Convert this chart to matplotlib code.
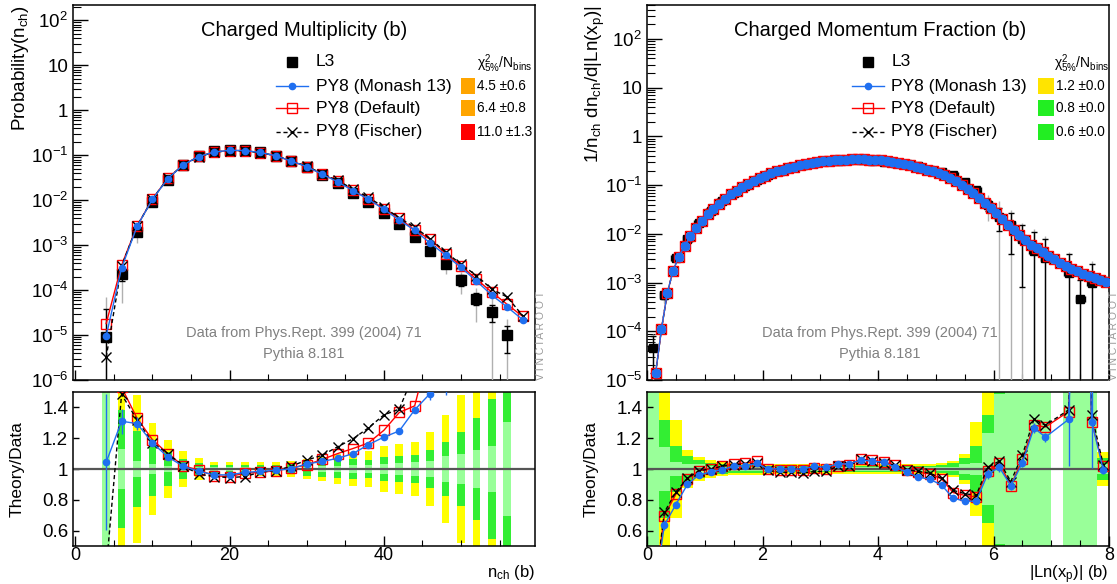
import numpy as np
import matplotlib.pyplot as plt
from matplotlib.ticker import MultipleLocator, LogLocator, NullFormatter, FuncFormatter, FixedLocator
from matplotlib.lines import Line2D
from matplotlib.patches import Rectangle

plt.rcParams['font.family'] = ['Liberation Sans', 'DejaVu Sans']
plt.rcParams['mathtext.fontset'] = 'custom'
plt.rcParams['mathtext.rm'] = 'Liberation Sans'
plt.rcParams['mathtext.it'] = 'Liberation Sans:italic'
plt.rcParams['mathtext.bf'] = 'Liberation Sans:bold'

BLUE = '#1f6ff0'
YELLOW = '#ffff00'
GREEN = '#33ee33'
LIGHT = '#99ff99'

# ---------------- Charged multiplicity ----------------
nch_x = [4, 6, 8, 10, 12, 14, 16, 18, 20, 22, 24, 26, 28, 30, 32, 34, 36, 38, 40,
         42, 44, 46, 48, 50, 52, 54, 56]
nch_l3 = [9e-6, 2.3e-4, 2.0e-3, 9.0e-3, 0.028, 0.060, 0.095, 0.123, 0.134, 0.130,
          0.117, 0.098, 0.074, 0.054, 0.036, 0.024, 0.0148, 0.0091, 0.0052, 0.0029,
          0.00154, 7.5e-4, 3.8e-4, 1.67e-4, 6.5e-5, 3.3e-5, 1.0e-5]
# relative uncertainties (black = stat, grey = total)
nch_l3_stat = [3.3, 0.3, 0.2, 0.1, 0.05, 0.03, 0.02, 0.02, 0.02, 0.02, 0.02, 0.02, 0.02,
               0.02, 0.02, 0.02, 0.02, 0.02, 0.02, 0.02, 0.08, 0.12, 0.2, 0.28, 0.3, 0.42, 0.6]
nch_l3_tot = [7.0, 0.78, 0.45, 0.2, 0.1, 0.06, 0.05, 0.05, 0.05, 0.05, 0.05, 0.05, 0.05,
              0.05, 0.05, 0.05, 0.05, 0.05, 0.05, 0.05, 0.15, 0.25, 0.4, 0.5, 0.7, 1.0, 1.3]

nch_mc_x = [4, 6, 8, 10, 12, 14, 16, 18, 20, 22, 24, 26, 28, 30, 32, 34, 36, 38, 40,
            42, 44, 46, 48, 50, 52, 54, 56, 58]
nch_monash = [9.5e-6, 3.1e-4, 2.6e-3, 0.0105, 0.0302, 0.0611, 0.0936, 0.118, 0.129, 0.127,
              0.1152, 0.0971, 0.0741, 0.0558, 0.0378, 0.0257, 0.0163, 0.0105, 0.00628, 0.00362,
              0.00213, 0.00112, 6.0e-4, 3.2e-4, 1.6e-4, 7.7e-5, 4.2e-5, 2.2e-5]
nch_default = [1.8e-5, 3.6e-4, 2.65e-3, 0.0107, 0.0308, 0.0612, 0.0943, 0.1176, 0.127, 0.1265,
               0.1144, 0.0969, 0.0745, 0.0555, 0.0382, 0.0264, 0.0168, 0.0106, 0.0065, 0.00396,
               0.00217, 1.35e-3, 6.5e-4, 3.5e-4, 1.75e-4, 9.0e-5, 4.8e-5, 2.6e-5]
nch_fischer = [3.2e-6, 3.4e-4, 2.65e-3, 0.0105, 0.0308, 0.0612, 0.0919, 0.117, 0.1265, 0.1237,
               0.1147, 0.0969, 0.0753, 0.0571, 0.0392, 0.0275, 0.0177, 0.0115, 0.00702, 0.00403,
               0.0025, 1.4e-3, 7.0e-4, 3.8e-4, 2.1e-4, 1.05e-4, 7.0e-5, 2.7e-5]

# theory / data
nch_r_monash = [1.044, 1.31, 1.295, 1.17, 1.078, 1.018, 0.985, 0.962, 0.962, 0.978, 0.985,
                0.991, 1.002, 1.033, 1.049, 1.069, 1.10, 1.158, 1.207, 1.247, 1.384, 1.49,
                1.58, 1.92, 2.46, 2.33, 4.2]
nch_r_monash_err = [0.44, 0.08, 0.04, 0.015, 0.01, 0.01, 0.01, 0.01, 0.01, 0.01, 0.01, 0.01,
                    0.01, 0.01, 0.01, 0.01, 0.01, 0.01, 0.015, 0.015, 0.015, 0.04, 0.1, 0.1,
                    0.1, 0.1, 0.1]
nch_r_default = [2.0, 1.53, 1.33, 1.19, 1.10, 1.02, 0.993, 0.956, 0.951, 0.973, 0.978, 0.989,
                 1.007, 1.027, 1.062, 1.10, 1.133, 1.169, 1.251, 1.367, 1.41, 1.8, 1.71, 2.1,
                 2.7, 2.7, 4.8]
nch_r_fischer = [0.35, 1.484, 1.32, 1.17, 1.10, 1.02, 0.967, 0.951, 0.944, 0.951, 0.98, 0.989,
                 1.018, 1.058, 1.089, 1.144, 1.196, 1.267, 1.351, 1.389, 1.63, 1.87, 1.84,
                 2.28, 3.2, 3.2, 7.0]
# uncertainty bands (half widths)
nch_band_yellow = [0.6, 0.6, 0.48, 0.30, 0.19, 0.12, 0.07, 0.046, 0.044, 0.044, 0.045, 0.047,
                   0.055, 0.065, 0.08, 0.095, 0.11, 0.12, 0.147, 0.16, 0.177, 0.242, 0.35,
                   0.48, 0.6, 0.6, 0.6]
nch_band_green = [0.6, 0.385, 0.245, 0.175, 0.11, 0.068, 0.04, 0.028, 0.025, 0.025, 0.027,
                  0.028, 0.035, 0.045, 0.052, 0.06, 0.065, 0.06, 0.077, 0.083, 0.09, 0.123,
                  0.176, 0.242, 0.33, 0.455, 0.6]
nch_band_light = [0.6, 0.13, 0.05, 0.03, 0.02, 0.015, 0.012, 0.01, 0.01, 0.01, 0.01, 0.01,
                  0.012, 0.015, 0.02, 0.022, 0.025, 0.025, 0.03, 0.04, 0.045, 0.05, 0.085,
                  0.1, 0.123, 0.15, 0.305]

# ---------------- Charged momentum fraction ----------------
xp_l3_x = [0.1, 0.3, 0.5, 0.7, 0.9, 1.1, 1.3, 1.5, 1.7, 1.9, 2.1, 2.3, 2.5, 2.7, 2.9, 3.1,
           3.3, 3.5, 3.7, 3.9, 4.1, 4.3, 4.5, 4.7, 4.9, 5.1, 5.3, 5.5, 5.7, 5.9, 6.1, 6.3,
           6.5, 6.7, 6.9, 7.3, 7.5, 7.7, 7.9]
xp_l3 = [4.6e-5, 5.5e-4, 3.2e-3, 7.9e-3, 0.0166, 0.0295, 0.047, 0.069, 0.098, 0.126,
         0.164, 0.200, 0.232, 0.263, 0.283, 0.309, 0.317, 0.327, 0.321, 0.317,
         0.306, 0.292, 0.272, 0.245, 0.209, 0.187, 0.159, 0.117, 0.078, 0.040,
         0.0227, 0.0153, 0.0080, 0.0044, 0.0032, 0.00155, 0.00045, 0.00098, 0.00107]
xp_l3_stat = [0.7, 0.15, 0.07, 0.05, 0.03, 0.02, 0.02, 0.02, 0.02, 0.02, 0.02, 0.02, 0.02,
              0.02, 0.02, 0.02, 0.02, 0.02, 0.02, 0.02, 0.02, 0.02, 0.02, 0.02, 0.02, 0.02,
              0.02, 0.02, 0.02, 0.25, 0.5, 0.75, 0.9, 1.5, 1.5, 1.5, 1.5, 1.5, 0.1]
xp_l3_sys = [0.9, 0.3, 0.12, 0.08, 0.06, 0.04, 0.04, 0.04, 0.04, 0.04, 0.04, 0.04, 0.04,
             0.04, 0.04, 0.04, 0.04, 0.04, 0.04, 0.04, 0.04, 0.04, 0.04, 0.04, 0.04, 0.04,
             0.04, 0.04, 0.04, 0.55, 1.05, 1.05, 1.05, 1.8, 1.8, 1.8, 1.8, 1.8, 0.15]

# fine-binned MC (the three tunes coincide at this scale)
xp_mc_x = np.arange(0.15, 8.0, 0.1)
xp_mc = [1.4e-5, 1.1e-4, 6.0e-4, 1.74e-3, 3.4e-3, 5.6e-3, 8.9e-3, 0.0132, 0.0186, 0.0251,
         0.0331, 0.0417, 0.0525, 0.0646, 0.0776, 0.0912, 0.107, 0.123, 0.138, 0.155,
         0.174, 0.191, 0.209, 0.224, 0.240, 0.257, 0.269, 0.282, 0.295, 0.309,
         0.316, 0.324, 0.331, 0.335, 0.339, 0.339, 0.339, 0.335, 0.331, 0.324,
         0.316, 0.302, 0.288, 0.275, 0.257, 0.240, 0.224, 0.204, 0.191, 0.174,
         0.158, 0.138, 0.120, 0.102, 0.0851, 0.0692, 0.0550, 0.0437, 0.0339, 0.0263,
         0.0200, 0.0155, 0.0120, 0.00933, 0.00741, 0.00603, 0.00501, 0.00417, 0.00355, 0.00302,
         0.00251, 0.00219, 0.00191, 0.00170, 0.00151, 0.00135, 0.00123, 0.00112, 0.00102]

xp_r_monash = [0.10, 0.636, 0.769, 0.90, 0.962, 0.98, 0.996, 1.018, 1.022, 1.036, 1.0, 1.002,
               1.0, 1.0, 1.018, 1.011, 1.033, 1.033, 1.058, 1.051, 1.044, 1.011, 0.978, 0.947,
               0.933, 0.896, 0.811, 0.791, 0.791, 0.967, 1.011, 0.891, 1.04, 1.267, 1.207,
               1.322, 3.5, 1.307, 0.996]
xp_r_monash_err = [0.05, 0.03, 0.02, 0.01, 0.01, 0.01, 0.01, 0.01, 0.01, 0.01, 0.01, 0.01,
                   0.01, 0.01, 0.01, 0.01, 0.01, 0.01, 0.01, 0.01, 0.01, 0.01, 0.01, 0.01,
                   0.01, 0.01, 0.01, 0.01, 0.01, 0.03, 0.03, 0.03, 0.03, 0.03, 0.03, 0.3,
                   0.3, 0.3, 0.03]
xp_r_default = [0.11, 0.696, 0.836, 0.936, 0.989, 1.0, 1.018, 1.033, 1.038, 1.051, 1.002,
                0.996, 0.996, 0.991, 1.007, 1.0, 1.022, 1.029, 1.062, 1.056, 1.047, 1.024,
                0.996, 0.98, 0.967, 0.936, 0.847, 0.829, 0.818, 0.989, 1.04, 0.891, 1.062,
                1.284, 1.273, 1.373, 3.6, 1.307, 1.018]
xp_r_fischer = [0.11, 0.718, 0.851, 0.94, 0.989, 1.0, 1.018, 1.029, 1.033, 1.036, 0.991,
                0.978, 0.978, 0.973, 0.984, 0.984, 1.018, 1.022, 1.062, 1.051, 1.04, 1.024,
                0.996, 0.984, 0.973, 0.94, 0.862, 0.84, 0.829, 1.011, 1.051, 0.918, 1.091,
                1.322, 1.284, 1.384, 3.7, 1.351, 1.029]

xp_band_x = np.arange(0.1, 8.0, 0.2)
xp_band_yellow = [0.6, 0.6, 0.32, 0.125, 0.08, 0.06, 0.045, 0.04, 0.04, 0.04,
                  0.035, 0.035, 0.035, 0.035, 0.035, 0.035, 0.035, 0.035, 0.035, 0.035,
                  0.035, 0.035, 0.035, 0.035, 0.035, 0.04, 0.055, 0.095, 0.305, 0.6,
                  0.6, 0.6, 0.6, 0.6, 0.6, 0.0, 0.6, 0.6, 0.6, 0.11]
xp_band_green = [0.6, 0.32, 0.15, 0.085, 0.06, 0.04, 0.03, 0.025, 0.025, 0.025,
                 0.022, 0.022, 0.022, 0.022, 0.022, 0.022, 0.022, 0.022, 0.022, 0.022,
                 0.022, 0.022, 0.022, 0.022, 0.022, 0.028, 0.04, 0.07, 0.15, 0.35,
                 0.6, 0.6, 0.6, 0.6, 0.6, 0.0, 0.6, 0.6, 0.6, 0.07]
xp_band_light = [0.6, 0.14, 0.045, 0.035, 0.03, 0.02, 0.015, 0.012, 0.012, 0.012,
                 0.01, 0.01, 0.01, 0.01, 0.01, 0.01, 0.01, 0.01, 0.01, 0.01,
                 0.01, 0.01, 0.01, 0.01, 0.01, 0.012, 0.015, 0.03, 0.04, 0.235,
                 0.485, 0.6, 0.6, 0.6, 0.6, 0.0, 0.6, 0.6, 0.6, 0.03]

nch_chi2 = ['4.5 \u00b10.6', '6.4 \u00b10.8', '11.0 \u00b11.3']
nch_chi2_col = ['#ffa500', '#ffa500', '#ff0000']
xp_chi2 = ['1.2 \u00b10.0', '0.8 \u00b10.0', '0.6 \u00b10.0']
xp_chi2_col = ['#ffe400', '#22ee22', '#22ee22']


def root_log(v, pos):
    e = int(round(np.log10(v)))
    if e == 0:
        return '1'
    if e == 1:
        return '10'
    return r'$\mathregular{10^{%d}}$' % e


def style_top(ax, xlim, ylim, xmaj, xmin):
    ax.set_yscale('log')
    ax.set_xlim(*xlim)
    ax.set_ylim(*ylim)
    ax.xaxis.set_major_locator(MultipleLocator(xmaj))
    ax.xaxis.set_minor_locator(MultipleLocator(xmin))
    ax.xaxis.set_major_formatter(NullFormatter())
    ax.yaxis.set_major_locator(LogLocator(base=10, numticks=20))
    ax.yaxis.set_minor_locator(LogLocator(base=10, subs=np.arange(2, 10), numticks=20))
    ax.yaxis.set_minor_formatter(NullFormatter())
    ax.yaxis.set_major_formatter(FuncFormatter(root_log))
    ax.tick_params(which='both', direction='in', top=False, right=False, labelsize=13.5)
    ax.tick_params(axis='y', which='major', length=11, width=1)
    ax.tick_params(axis='y', which='minor', length=5.5, width=0.8)
    ax.tick_params(axis='x', which='major', length=7, width=1)
    ax.tick_params(axis='x', which='minor', length=4, width=0.8)
    for s in ax.spines.values():
        s.set_linewidth(1.1)


def style_ratio(ax, xlim, xmaj, xmin):
    ax.set_xlim(*xlim)
    ax.set_ylim(0.5, 1.5)
    ax.xaxis.set_major_locator(MultipleLocator(xmaj))
    ax.xaxis.set_minor_locator(MultipleLocator(xmin))
    ax.yaxis.set_major_locator(FixedLocator([0.6, 0.8, 1.0, 1.2, 1.4]))
    ax.yaxis.set_major_formatter(FuncFormatter(lambda v, p: '1' if abs(v - 1) < 1e-6 else '%.1f' % v))
    ax.tick_params(which='both', direction='in', top=False, right=False)
    ax.tick_params(axis='y', labelsize=13.5, length=4.5, width=1)
    ax.tick_params(axis='x', labelsize=13, which='major', length=7, width=1, pad=1)
    ax.tick_params(axis='x', which='minor', length=4, width=0.8)
    ax.axhline(1.0, color='#555555', lw=1.6, zorder=2)
    for s in ax.spines.values():
        s.set_linewidth(1.1)


def draw_bands(ax, x, yel, grn, lgt, width):
    for half, col in ((yel, YELLOW), (grn, GREEN), (lgt, LIGHT)):
        h = np.array(half)
        ax.bar(x, 2 * h, bottom=1 - h, width=width, color=col, linewidth=0, zorder=1)


def legend_block(ax, xl0, xm, xl1, xt, xb0, xb1, xc, chi2, cols):
    rows_y = [0.849, 0.784, 0.725, 0.662]
    entries = [
        ('L3', dict(marker='s', color='k', ms=6.5, ls='none')),
        ('PY8 (Monash 13)', dict(marker='o', color=BLUE, ms=4.5, lw=1)),
        ('PY8 (Default)', dict(marker='s', color='red', mfc='none', mec='red', ms=7.5, lw=1, mew=1)),
        ('PY8 (Fischer)', dict(marker='x', color='k', ms=7, lw=1, ls=(0, (3, 2)), mew=1)),
    ]
    for (label, st), y in zip(entries, rows_y):
        ax.add_line(Line2D([xl0, xm, xl1], [y, y, y], markevery=[1], transform=ax.transAxes,
                           clip_on=False, **st))
        ax.text(xt, y, label, transform=ax.transAxes, fontsize=12.5, va='center', ha='left')
    ax.text(xc, 0.843, r'$\mathrm{\chi}^{2}_{5\%}/\mathrm{N}_{\mathrm{bins}}$', transform=ax.transAxes,
            fontsize=10, va='center', ha='left')
    for txt, col, y in zip(chi2, cols, rows_y[1:]):
        ax.add_patch(Rectangle((xb0, y - 0.021), xb1 - xb0, 0.042, transform=ax.transAxes,
                               color=col, clip_on=False, lw=0))
        ax.text(xb1 + 0.004, y, txt, transform=ax.transAxes, fontsize=9.8, va='center', ha='left')


def data_points(ax, x, y, stat, tot, xerr=None, ms=6.5):
    y = np.array(y)
    ax.errorbar(x, y, yerr=y * np.array(tot), fmt='none', ecolor='#b0b0b0', elinewidth=1,
                capsize=0, zorder=3)
    ax.errorbar(x, y, yerr=y * np.array(stat), xerr=xerr, fmt='s', color='k', ms=ms,
                elinewidth=1, capsize=2.5, capthick=1, zorder=4)


W, H = 1117, 584
fig = plt.figure(figsize=(W / 100, H / 100), dpi=100)


def box(x0, y0, x1, y1):
    return [x0 / W, 1 - y1 / H, (x1 - x0) / W, (y1 - y0) / H]


axL = fig.add_axes(box(73, 5, 535, 380))
axLr = fig.add_axes(box(73, 392, 535, 546))
axR = fig.add_axes(box(647, 5, 1109, 380))
axRr = fig.add_axes(box(647, 392, 1109, 546))

# ---------- left: multiplicity ----------
data_points(axL, nch_x, nch_l3, nch_l3_stat, nch_l3_tot)
axL.plot(nch_mc_x, nch_default, '-s', color='red', mfc='none', mec='red', ms=7.5, mew=1, lw=1, zorder=5)
axL.plot(nch_mc_x, nch_fischer, 'x', color='k', ls=(0, (3, 2)), ms=7, mew=1, lw=1, zorder=6)
axL.plot(nch_mc_x, nch_monash, '-o', color=BLUE, ms=4.5, lw=1, zorder=7)
style_top(axL, (-0.3, 59.6), (1e-6, 220), 20, 5)
axL.set_ylabel(r'Probability(n$_{\mathrm{ch}}$)', fontsize=13.5, loc='top')
axL.yaxis.set_label_coords(-0.09, 1.0)
axL.text(0.5, 0.933, 'Charged Multiplicity (b)', transform=axL.transAxes, fontsize=14.5,
         ha='center', va='center')
axL.text(0.5, 0.125, 'Data from Phys.Rept. 399 (2004) 71', transform=axL.transAxes,
         fontsize=10.5, color='#808080', ha='center', va='center')
axL.text(0.5, 0.069, 'Pythia 8.181', transform=axL.transAxes, fontsize=10.5,
         color='#808080', ha='center', va='center')
legend_block(axL, 0.439, 0.474, 0.509, 0.525, 0.839, 0.870, 0.874, nch_chi2, nch_chi2_col)

draw_bands(axLr, nch_x, nch_band_yellow, nch_band_green, nch_band_light, 1.0)
axLr.plot(nch_x, nch_r_default, '-s', color='red', mfc='none', mec='red', ms=7.5, mew=1, lw=1, zorder=5)
axLr.plot(nch_x, nch_r_fischer, 'x', color='k', ls=(0, (3, 2)), ms=7, mew=1, lw=1, zorder=6)
axLr.errorbar(nch_x, nch_r_monash, yerr=nch_r_monash_err, fmt='-o', color=BLUE, ms=4.5,
              lw=1, elinewidth=1, capsize=0, zorder=7)
style_ratio(axLr, (-0.3, 59.6), 20, 5)
axLr.set_ylabel('Theory/Data', fontsize=12.5)
axLr.yaxis.set_label_coords(-0.105, 0.5)
axLr.set_xlabel(r'n$_{\mathrm{ch}}$ (b)', fontsize=12, loc='right')
axLr.xaxis.set_label_coords(1.0, -0.11)

# ---------- right: momentum fraction ----------
data_points(axR, xp_l3_x, xp_l3, xp_l3_stat, xp_l3_sys, xerr=0.08, ms=5.5)
axR.plot(xp_mc_x, xp_mc, 'x', color='k', ls=(0, (3, 2)), ms=7, mew=1, lw=1, zorder=5)
axR.plot(xp_mc_x, xp_mc, '-s', color='red', mfc='none', mec='red', ms=7.5, mew=1, lw=1, zorder=6)
axR.plot(xp_mc_x, xp_mc, '-o', color=BLUE, ms=6, lw=1, zorder=7)
style_top(axR, (0, 8), (1e-5, 500), 2, 0.5)
axR.set_ylabel(r'1/n$_{\mathrm{ch}}$ dn$_{\mathrm{ch}}$/d|Ln(x$_{\mathrm{p}}$)|', fontsize=13.5, loc='top')
axR.yaxis.set_label_coords(-0.087, 1.0)
axR.text(0.504, 0.933, 'Charged Momentum Fraction (b)', transform=axR.transAxes, fontsize=14.5,
         ha='center', va='center')
axR.text(0.504, 0.125, 'Data from Phys.Rept. 399 (2004) 71', transform=axR.transAxes,
         fontsize=10.5, color='#808080', ha='center', va='center')
axR.text(0.504, 0.069, 'Pythia 8.181', transform=axR.transAxes, fontsize=10.5,
         color='#808080', ha='center', va='center')
legend_block(axR, 0.444, 0.478, 0.513, 0.529, 0.846, 0.881, 0.881, xp_chi2, xp_chi2_col)

draw_bands(axRr, xp_band_x, xp_band_yellow, xp_band_green, xp_band_light, 0.2)
axRr.plot(xp_l3_x, xp_r_default, '-s', color='red', mfc='none', mec='red', ms=7.5, mew=1, lw=1, zorder=5)
axRr.plot(xp_l3_x, xp_r_fischer, 'x', color='k', ls=(0, (3, 2)), ms=7, mew=1, lw=1, zorder=6)
axRr.errorbar(xp_l3_x, xp_r_monash, yerr=xp_r_monash_err, fmt='-o', color=BLUE, ms=4.5,
              lw=1, elinewidth=1, capsize=0, zorder=7)
style_ratio(axRr, (0, 8), 2, 0.5)
axRr.set_ylabel('Theory/Data', fontsize=12.5)
axRr.yaxis.set_label_coords(-0.105, 0.5)
axRr.set_xlabel(r'|Ln(x$_{\mathrm{p}}$)| (b)', fontsize=12, loc='right')
axRr.xaxis.set_label_coords(1.0, -0.11)

for xpix in (541, 1114):
    fig.text(xpix / W, 1 - 380 / H, 'V I N C I A R O O T', rotation=90, ha='center',
             va='bottom', fontsize=7.5, color='#999999')

fig.savefig('out.png', dpi=100)
